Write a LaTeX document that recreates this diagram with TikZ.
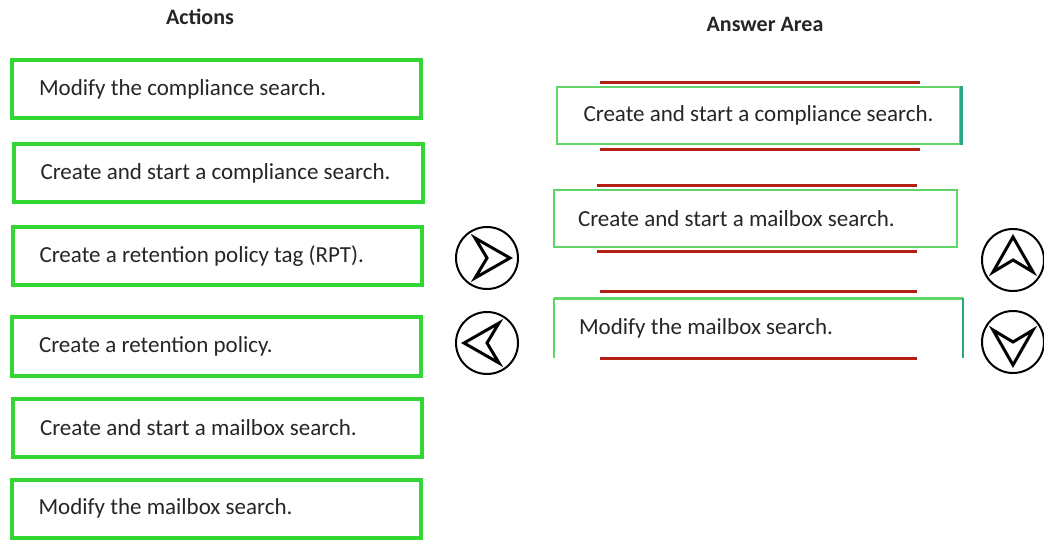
\documentclass[tikz,border=0pt]{standalone}
\usepackage{fontspec}
\setmainfont{Carlito}
\usetikzlibrary{positioning}

\definecolor{actgreen}{RGB}{52,214,52}
\definecolor{ansgreen}{RGB}{96,212,100}
\definecolor{slotred}{RGB}{180,32,22}
\definecolor{edgeteal}{RGB}{40,165,135}
\definecolor{inktext}{RGB}{38,38,38}

\begin{document}
\begin{tikzpicture}[x=1pt, y=-1pt,
	actbox/.style={draw=actgreen, line width=4pt, text width=355pt, inner xsep=27pt, minimum height=58pt, align=flush left, text=inktext, font=\fontsize{23}{27}\selectfont},
	ansbox/.style={draw=ansgreen, line width=2pt, minimum width=403pt, minimum height=57pt, text=inktext, font=\fontsize{23}{27}\selectfont},
	header/.style={anchor=base, text=inktext, font=\bfseries\fontsize{22}{26}\selectfont},
	btn/.style={draw, circle, line width=2pt, minimum size=62pt, inner sep=0pt},
	glyph/.style={line width=3pt, line join=miter},
	slot/.style={draw=slotred, line width=3pt}]
			% Canvas
			\fill[white] (0,0) rectangle (1044,545);
			\useasboundingbox (0,0) rectangle (1044,545);
			
			% Headers
			\node[header] (hdAct) at (200,25) {Actions};
			\node[header] (hdAns) at (765,32) {Answer Area};
			
			% Actions (left column)
			\node[actbox] (act1) at (216.5,89) {Modify the compliance search.};
			\node[actbox] (act2) at (218,173.5) {Create and start a compliance search.};
			\node[actbox] (act3) at (217,256) {Create a retention policy tag (RPT).};
			\node[actbox] (act4) at (216.5,346.5) {Create a retention policy.};
			\node[actbox] (act5) at (217.5,427.5) {Create and start a mailbox search.};
			\node[actbox] (act6) at (216,508.5) {Modify the mailbox search.};
			
			% Answer slots (red rails)
			\draw[slot] (600,83) -- (920,83);
			\draw[slot] (600,150) -- (920,150);
			\draw[slot] (597,186) -- (917,186);
			\draw[slot] (597,252) -- (917,252);
			\draw[slot] (600,292) -- (917,292);
			\draw[slot] (600,358) -- (917,358);
			
			% Answer Area
			\node[ansbox, align=center] (ans1) at (758.5,115.5) {Create and start a compliance search.};
			\draw[edgeteal, line width=3pt] (ans1.north east) -- (ans1.south east);
			\node[ansbox, text width=355pt, inner xsep=24pt, align=flush left] (ans2) at (755.5,218.5) {Create and start a mailbox search.};
			\node[ansbox, draw=none, text width=359pt, inner xsep=24pt, align=flush left] (ans3) at (758.5,328) {Modify the mailbox search.};
			\draw[ansgreen, line width=2pt] (ans3.south west) -- (ans3.north west);
			\draw[ansgreen, line width=3pt] (ans3.north west) -- (ans3.north east);
			\draw[edgeteal, line width=2pt] (ans3.north east) -- (ans3.south east);
			
			% Buttons
			\node[btn] (btnR) at (487,258) {};
			\node[btn] (btnL) at (487,343) {};
			\node[btn] (btnU) at (1013,260) {};
			\node[btn] (btnD) at (1013,342) {};
			\foreach \btn/\ang in {btnR/0, btnL/180, btnU/90, btnD/-90} {
				\draw[glyph, shift={(\btn.center)}, rotate=\ang] (-12,-20) -- (23,0) -- (-12,20) -- (0,0) -- cycle;
			}
		\end{tikzpicture}
\end{document}
